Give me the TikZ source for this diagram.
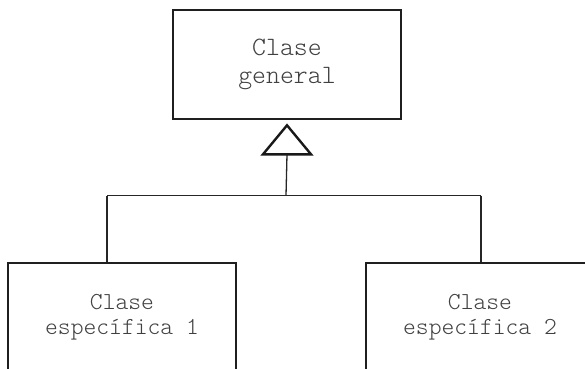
\documentclass[tikz,border=0pt]{standalone}
\usepackage{fontspec}
\setmonofont{Latin Modern Mono Light}
\begin{document}
\begin{tikzpicture}[x=1pt,y=-1pt,
  classbox/.style={draw=black!88, line width=2.6pt, rectangle, align=center,
    inner sep=0pt, text=black!75},
  topfont/.style={font=\ttfamily\fontsize{26.5}{28}\selectfont},
  subfont/.style={font=\ttfamily\fontsize{24.4}{25}\selectfont},
  link/.style={draw=black!85, line width=1.3pt},
  arrowhead/.style={draw=black!90, line width=2.4pt, fill=white, line join=miter}]
  \useasboundingbox (0,0) rectangle (585,368);
  \clip (0,0) rectangle (585,368);
  % superclass
  \node[classbox, topfont, minimum width=228pt, minimum height=109pt] (gen) at (287,64.5) {Clase\\general};
  % subclasses (their lower parts run off the page)
  \node[classbox, subfont, minimum width=228pt, minimum height=109pt] (sub1) at (122,317.5) {Clase\\específica 1};
  \node[classbox, subfont, minimum width=228pt, minimum height=109pt] (sub2) at (480,317.5) {Clase\\específica 2};
  % inheritance triangle and tree
  \coordinate (tip) at ([yshift=-5pt]gen.south);
  \coordinate (base) at ([yshift=-34pt]gen.south);
  \coordinate (fork) at (286,195.5);
  \coordinate (left) at (107,195.5);
  \coordinate (right) at (481,195.5);
  \draw[link] (base) -- (fork);
  \draw[link] (left) -- (right);
  \draw[link] (left) -- (left |- sub1.north);
  \draw[link] (right) -- (right |- sub2.north);
  \draw[arrowhead] (tip) -- ([xshift=-24pt]base) -- ([xshift=24pt]base) -- cycle;
\end{tikzpicture}
\end{document}
